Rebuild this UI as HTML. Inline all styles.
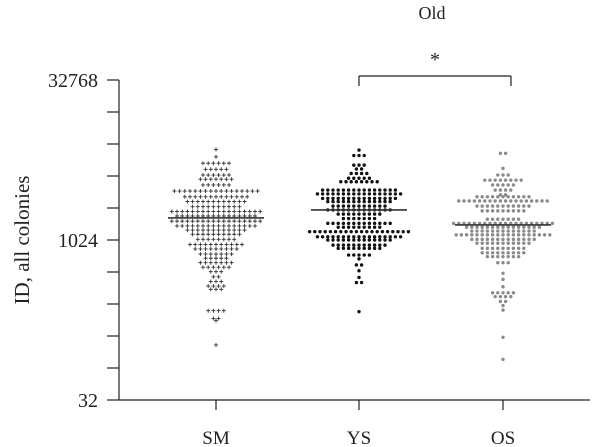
<!DOCTYPE html>
<html><head><meta charset="utf-8"><style>
html,body{margin:0;padding:0;background:#fff;}
svg{display:block;font-family:"Liberation Serif",serif;}
</style></head><body>
<svg width="600" height="447" viewBox="0 0 600 447">
<text x="432" y="19" font-size="18" text-anchor="middle" fill="#222">Old</text>
<text transform="translate(29,240) rotate(-90)" font-size="21" text-anchor="middle" fill="#222">ID, all colonies</text>
<g id="axes"></g>
<g id="marks"></g>
<g stroke="#222" stroke-width="1.2" fill="none">
<line x1="359" y1="76" x2="511" y2="76"/>
<line x1="359" y1="76" x2="359" y2="86"/>
<line x1="511" y1="76" x2="511" y2="86"/>
</g>
<text x="435" y="66" font-size="20" text-anchor="middle" fill="#222">*</text>
</svg>
<script>
const categories = ["SM","YS","OS"];
const yTickLabels = ["32","1024","32768"];
const yTickLog2 = [5,10,15];
const smRowLog2 = [12.83,12.60,12.40,12.21,12.03,11.90,11.72,11.53,11.35,11.20,11.04,10.89,10.75,10.59,10.44,10.31,10.18,10.02,9.86,9.72,9.56,9.43,9.29,9.15,9.01,8.85,8.70,8.56,8.46,7.79,7.55,7.48,6.72];
const smRowCount = [1,1,6,5,6,7,6,17,13,12,10,18,16,18,16,12,10,8,11,9,7,5,7,6,3,2,3,4,3,4,2,1,1];
const ysRowLog2 = [12.81,12.64,12.34,12.22,12.08,11.93,11.82,11.56,11.44,11.30,11.20,11.06,10.94,10.81,10.67,10.52,10.40,10.26,10.10,10.00,9.84,9.74,9.53,9.41,9.22,9.04,8.83,8.67,7.76];
const ysRowCount = [1,3,3,2,4,5,8,15,17,15,13,11,13,9,7,13,9,20,17,13,11,9,5,1,2,1,1,2,1];
const osRowLog2 = [12.71,12.24,12.03,11.87,11.72,11.56,11.41,11.35,11.22,11.06,10.91,10.65,10.52,10.40,10.28,10.16,10.02,9.90,9.74,9.60,9.48,9.29,8.96,8.77,8.54,8.35,8.23,8.08,7.95,7.81,6.96,6.27];
const osRowCount = [2,1,3,8,5,4,2,11,18,11,9,7,20,15,13,19,13,11,9,9,7,3,1,1,1,5,4,2,1,1,1,1];
const medianLog2 = [10.69,10.94,10.47];

const NS="http://www.w3.org/2000/svg";
const axisX=119, xPos=[216,359,503];
function yScale(l){return 240-(l-10)*32;}
function mk(tag,attrs,parent){const e=document.createElementNS(NS,tag);for(const k in attrs)e.setAttribute(k,attrs[k]);parent.appendChild(e);return e;}
const axes=document.getElementById('axes'), marks=document.getElementById('marks');
let a=mk('line',{x1:axisX,y1:yScale(15),x2:axisX,y2:yScale(5),stroke:'#222','stroke-width':1.2},axes);


for(let l=5;l<=15;l++){
  const t=mk('line',{x1:axisX-12,y1:yScale(l),x2:axisX,y2:yScale(l),stroke:'#222','stroke-width':1.2},axes);
  
  
}
yTickLog2.forEach((l,i)=>{
  const t=mk('text',{x:axisX-21,y:yScale(l)+7,'font-size':20,'text-anchor':'end',fill:'#222'},axes);
  t.textContent=yTickLabels[i];
  
  
});
const bx=mk('line',{x1:axisX,y1:yScale(5),x2:590,y2:yScale(5),stroke:'#222','stroke-width':1.2},axes);


categories.forEach((c,i)=>{
  const tk=mk('line',{x1:xPos[i],y1:yScale(5),x2:xPos[i],y2:yScale(5)+10,stroke:'#222','stroke-width':1.2},axes);
  
  
  const t=mk('text',{x:xPos[i],y:444,'font-size':19,'text-anchor':'middle',fill:'#222'},axes);
  t.textContent=c;
  
  
});
const groups=[[smRowLog2,smRowCount,'plus','#333'],[ysRowLog2,ysRowCount,'dot','#111'],[osRowLog2,osRowCount,'dot','#8a8a8a']];
groups.forEach((g,gi)=>{
  const [vals,counts,shape,col]=g;
  vals.forEach((v,r)=>{
    const n=counts[r], y=yScale(v);
    for(let k=0;k<n;k++){
      const x=xPos[gi]+(k-(n-1)/2)*5.2;
      let e;
      if(shape==='plus'){
        e=mk('path',{d:`M${x-2} ${y}H${x+2}M${x} ${y-2}V${y+2}`,stroke:col,'stroke-width':0.9},marks);
      } else {
        e=mk('circle',{cx:x,cy:y,r:1.7,fill:col},marks);
      }
      
      
    }
  });
  const m=mk('line',{x1:xPos[gi]-48,y1:yScale(medianLog2[gi]),x2:xPos[gi]+48,y2:yScale(medianLog2[gi]),stroke:'#333','stroke-width':1.6},marks);
  
  
});
</script>
</body></html>
